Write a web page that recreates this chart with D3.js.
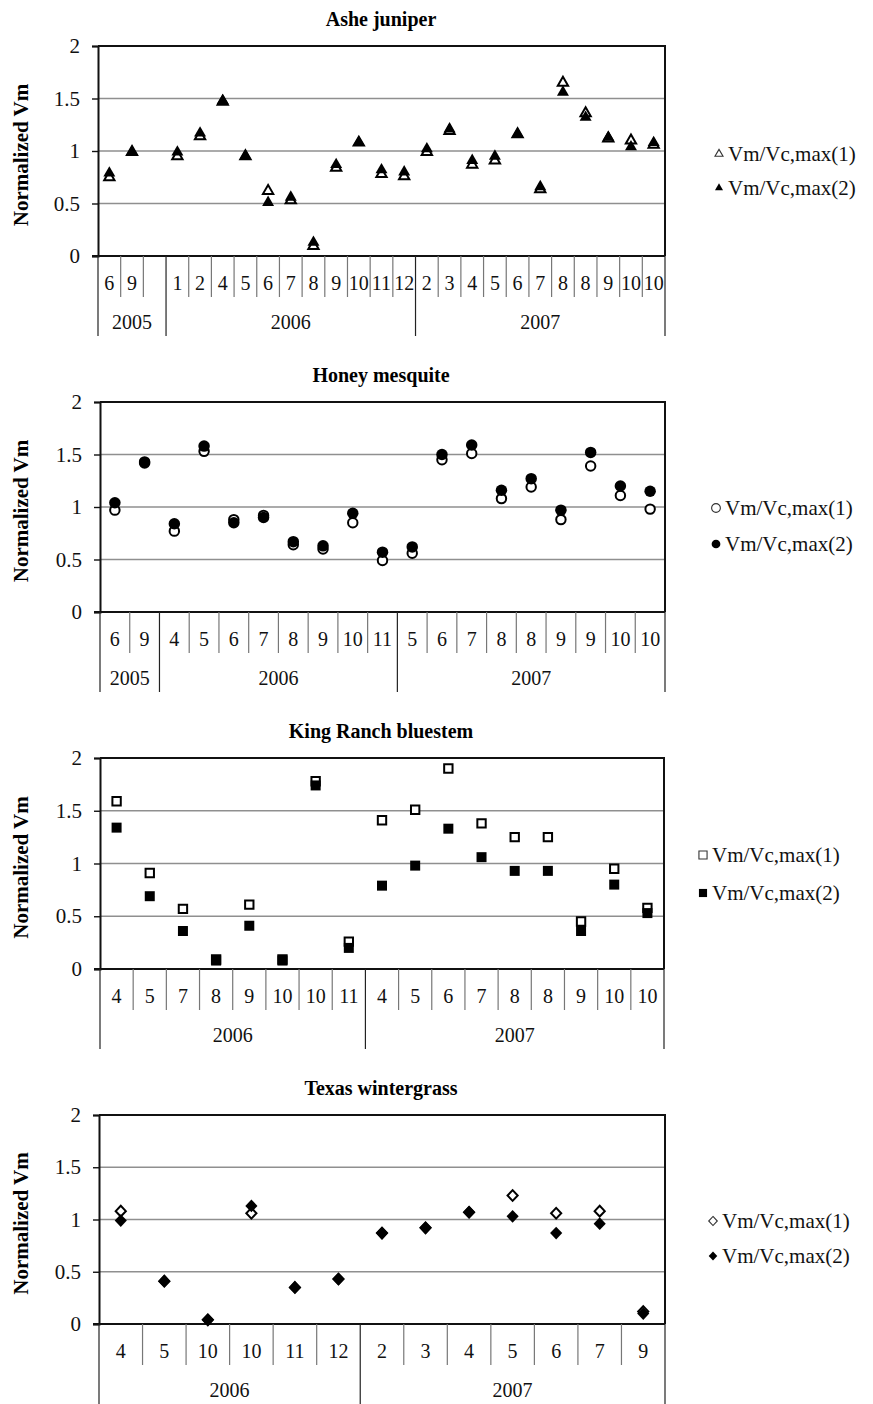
<!DOCTYPE html>
<html>
<head>
<meta charset="utf-8">
<script src="https://cdn.jsdelivr.net/npm/d3@7"></script>
<style>
  html, body { margin: 0; padding: 0; background: #fff; }
  svg, svg text { font-family: "Liberation Serif", "Times New Roman", serif; }
</style>
</head>
<body>
<svg id="chart" width="873" height="1404"></svg>
<script>
// ---- Ashe juniper ----
const ajMonths = ["6","9","","1","2","4","5","6","7","8","9","10","11","12","2","3","4","5","6","7","8","8","9","10","10"];
const ajYears = ["2005","2006","2007"];
const ajYearSpans = [3, 11, 11];
const ajVm1 = [0.75,0.99,null,0.95,1.14,1.47,0.95,0.62,0.53,0.095,0.84,1.08,0.78,0.76,0.99,1.19,0.87,0.91,1.16,0.635,1.65,1.36,1.12,1.10,1.06];
const ajVm2 = [0.79,0.99,null,0.99,1.17,1.48,0.95,0.51,0.56,0.13,0.87,1.08,0.82,0.80,1.02,1.21,0.91,0.95,1.16,0.66,1.56,1.32,1.13,1.04,1.08];

// ---- Honey mesquite ----
const hmMonths = ["6","9","4","5","6","7","8","9","10","11","5","6","7","8","8","9","9","10","10"];
const hmYears = ["2005","2006","2007"];
const hmYearSpans = [2, 8, 9];
const hmVm1 = [0.97,1.43,0.77,1.53,0.88,0.92,0.64,0.60,0.85,0.49,0.56,1.45,1.51,1.08,1.19,0.88,1.39,1.11,0.98];
const hmVm2 = [1.04,1.42,0.84,1.58,0.85,0.90,0.67,0.63,0.94,0.57,0.62,1.50,1.59,1.16,1.27,0.97,1.52,1.20,1.15];

// ---- King Ranch bluestem ----
const kbMonths = ["4","5","7","8","9","10","10","11","4","5","6","7","8","8","9","10","10"];
const kbYears = ["2006","2007"];
const kbYearSpans = [8, 9];
const kbVm1 = [1.59,0.91,0.57,0.09,0.61,0.09,1.78,0.26,1.41,1.51,1.90,1.38,1.25,1.25,0.45,0.95,0.58];
const kbVm2 = [1.34,0.69,0.36,0.08,0.41,0.08,1.74,0.20,0.79,0.98,1.33,1.06,0.93,0.93,0.36,0.80,0.53];

// ---- Texas wintergrass ----
const twMonths = ["4","5","10","10","11","12","2","3","4","5","6","7","9"];
const twYears = ["2006","2007"];
const twYearSpans = [6, 7];
const twVm1 = [1.08,0.41,0.04,1.06,0.35,0.43,0.87,0.92,1.07,1.23,1.06,1.08,0.12];
const twVm2 = [0.99,0.41,0.04,1.13,0.35,0.43,0.87,0.92,1.07,1.03,0.87,0.96,0.10];

const seriesNames = ["Vm/Vc,max(1)", "Vm/Vc,max(2)"];
const yTicks = [0, 0.5, 1, 1.5, 2];
const yTickLabels = ["0", "0.5", "1", "1.5", "2"];
const yLabel = "Normalized Vm";

const SERIF = "'Liberation Serif', 'Times New Roman', serif";

// A diamond a little wider than d3's built-in one
const symbolWideDiamond = {
  draw(ctx, size) {
    const h = Math.sqrt(size) * 0.64;
    const w = h * 0.95;
    ctx.moveTo(0, -h); ctx.lineTo(w, 0); ctx.lineTo(0, h); ctx.lineTo(-w, 0); ctx.closePath();
  }
};

const panels = [
  { title: "Ashe juniper", months: ajMonths, years: ajYears, spans: ajYearSpans, s1: ajVm1, s2: ajVm2,
    x0: 98, x1: 665, y0: 46, y1: 256, sym: d3.symbolTriangle, size: 62, openSize: 46,
    legendX: 719, legendY: 154, legendGap: 34, legendSize: 28 },
  { title: "Honey mesquite", months: hmMonths, years: hmYears, spans: hmYearSpans, s1: hmVm1, s2: hmVm2,
    x0: 100, x1: 665, y0: 402, y1: 612, sym: d3.symbolCircle, size: 104, openSize: 70,
    legendX: 716, legendY: 508, legendGap: 36, legendSize: 60 },
  { title: "King Ranch bluestem", months: kbMonths, years: kbYears, spans: kbYearSpans, s1: kbVm1, s2: kbVm2,
    x0: 100, x1: 664, y0: 758, y1: 969, sym: d3.symbolSquare, size: 100, openSize: 70,
    legendX: 703, legendY: 855, legendGap: 38, legendSize: 66 },
  { title: "Texas wintergrass", months: twMonths, years: twYears, spans: twYearSpans, s1: twVm1, s2: twVm2,
    x0: 99, x1: 665, y0: 1115, y1: 1324, sym: symbolWideDiamond, size: 100, openSize: 70,
    legendX: 713, legendY: 1221, legendGap: 35, legendSize: 50 }
];

const svg = d3.select("#chart");
const FONT = 20;

panels.forEach(p => {
  const g = svg.append("g").attr("font-family", SERIF);
  const x = d3.scaleBand().domain(d3.range(p.months.length)).range([p.x0, p.x1]).paddingInner(0).paddingOuter(0);
  const y = d3.scaleLinear().domain([0, 2]).range([p.y1, p.y0]);

  // title
  g.append("text").attr("x", 381).attr("y", p.y0 - 20)
    .attr("text-anchor", "middle").attr("font-size", 20).attr("font-weight", "bold")
    .attr("font-family", SERIF).text(p.title);

  // gridlines
  g.selectAll(".grid").data(yTicks.filter(t => t > 0 && t < 2)).enter().append("line")
    .attr("x1", p.x0).attr("x2", p.x1).attr("y1", d => y(d)).attr("y2", d => y(d))
    .attr("stroke", "#8f8f8f").attr("stroke-width", 1.4);

  // plot frame (top, right)
  g.append("path")
    .attr("d", `M${p.x0},${y(2)}H${p.x1}V${y(0)}`)
    .attr("fill", "none").attr("stroke", "#111").attr("stroke-width", 2);

  // y axis
  const yAxis = d3.axisLeft(y).tickValues(yTicks).tickFormat((d, i) => yTickLabels[i]).tickSize(6).tickPadding(12);
  const ya = g.append("g").attr("transform", `translate(${p.x0},0)`).call(yAxis)
    .attr("font-family", SERIF);
  ya.select(".domain").attr("stroke", "#111").attr("stroke-width", 2);
  ya.selectAll(".tick line").attr("stroke", "#111").attr("stroke-width", 1.4);
  ya.selectAll(".tick text").attr("font-size", 21).attr("font-family", SERIF).attr("fill", "#111");

  // y label
  g.append("text")
    .attr("transform", `translate(28,${(p.y0 + p.y1) / 2 + 4}) rotate(-90)`)
    .attr("text-anchor", "middle").attr("font-size", 21).attr("font-weight", "bold")
    .attr("font-family", SERIF).text(yLabel);

  // category axis: baseline
  g.append("line").attr("x1", p.x0 - 6).attr("x2", p.x1).attr("y1", y(0)).attr("y2", y(0))
    .attr("stroke", "#111").attr("stroke-width", 2);

  // month labels
  const bw = x.bandwidth();
  g.selectAll(".mlab").data(p.months).enter().append("text")
    .attr("x", (d, i) => x(i) + bw / 2).attr("y", y(0) + 34)
    .attr("text-anchor", "middle").attr("font-size", FONT).attr("font-family", SERIF)
    .attr("fill", "#111").text(d => d);

  // month separators
  const yearEdges = d3.cumsum(p.spans);
  const isYearEdge = i => i === 0 || yearEdges.includes(i);
  d3.range(p.months.length + 1).forEach(i => {
    const xx = i < p.months.length ? x(i) : p.x1;
    const long = isYearEdge(i);
    g.append("line").attr("x1", xx).attr("x2", xx)
      .attr("y1", y(0)).attr("y2", y(0) + (long ? 80 : 41))
      .attr("stroke", long ? "#222" : "#777").attr("stroke-width", 1.2);
  });

  // year labels
  let start = 0;
  p.years.forEach((yr, k) => {
    const a = x(start);
    const end = start + p.spans[k];
    const b = end < p.months.length ? x(end) : p.x1;
    g.append("text").attr("x", (a + b) / 2).attr("y", y(0) + 73)
      .attr("text-anchor", "middle").attr("font-size", FONT).attr("font-family", SERIF)
      .attr("fill", "#111").text(yr);
    start = end;
  });

  // markers: open series first, filled drawn over it
  const openSym = d3.symbol().type(p.sym).size(p.openSize);
  const fillSym = d3.symbol().type(p.sym).size(p.size);
  g.selectAll(".s1").data(p.s1.map((v, i) => ({ v, i })).filter(d => d.v != null)).enter().append("path")
    .attr("d", openSym).attr("transform", d => `translate(${x(d.i) + bw / 2},${y(d.v)})`)
    .attr("fill", "#fff").attr("stroke", "#000").attr("stroke-width", 2);
  g.selectAll(".s2").data(p.s2.map((v, i) => ({ v, i })).filter(d => d.v != null)).enter().append("path")
    .attr("d", fillSym).attr("transform", d => `translate(${x(d.i) + bw / 2},${y(d.v)})`)
    .attr("fill", "#000");

  // legend
  seriesNames.forEach((name, k) => {
    const ly = p.legendY + k * p.legendGap;
    g.append("path").attr("d", d3.symbol().type(p.sym).size(p.legendSize))
      .attr("transform", `translate(${p.legendX},${ly})`)
      .attr("fill", k === 0 ? "#fff" : "#000").attr("stroke", k === 0 ? "#333" : "none").attr("stroke-width", 1.1);
    g.append("text").attr("x", p.legendX + 9).attr("y", ly + 7)
      .attr("font-size", 21).attr("font-family", SERIF).attr("fill", "#111").text(name);
  });
});
</script>
</body>
</html>
